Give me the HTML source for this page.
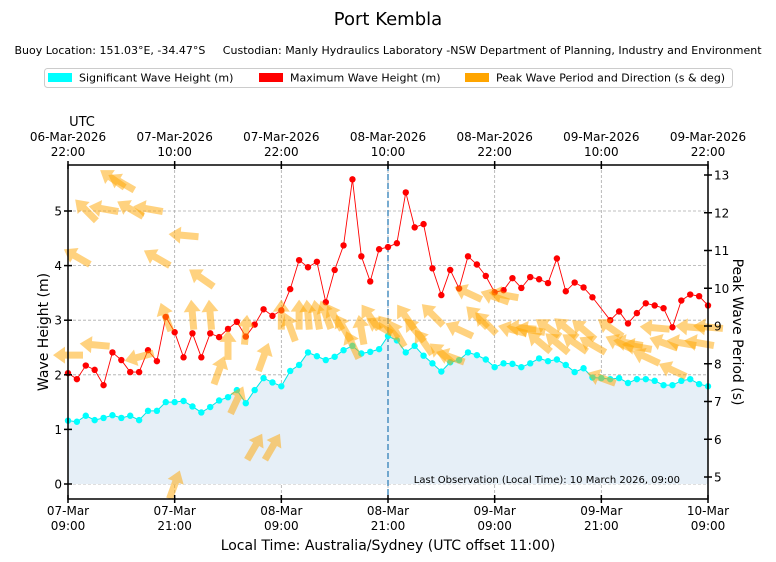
<!DOCTYPE html>
<html><head><meta charset="utf-8">
<style>
body{margin:0;background:#fff;}
svg{display:block;font-family:"DejaVu Sans","Liberation Sans",sans-serif;}
</style></head>
<body>
<svg id="chart" width="776" height="562" viewBox="0 0 776 562">
<text x="388" y="25" font-size="18" text-anchor="middle">Port Kembla</text>
<text x="388" y="54" font-size="11" text-anchor="middle" xml:space="preserve">Buoy Location: 151.03°E, -34.47°S     Custodian: Manly Hydraulics Laboratory -NSW Department of Planning, Industry and Environment</text>
<g>
<rect x="44.5" y="68.5" width="688" height="19" rx="3" fill="#fff" stroke="#ccc"/>
<g><rect x="48" y="73" width="24" height="9" fill="#00ffff"/><text x="79" y="81.5" font-size="11">Significant Wave Height (m)</text></g>
<g><rect x="259" y="73" width="24" height="9" fill="#ff0000"/><text x="290" y="81.5" font-size="11">Maximum Wave Height (m)</text></g>
<g><rect x="465" y="73" width="24" height="9" fill="#ffa500"/><text x="496" y="81.5" font-size="11">Peak Wave Period and Direction (s &amp; deg)</text></g>
</g>
<text x="82" y="126" font-size="13" text-anchor="middle">UTC</text>
<g id="plot"></g>
<text x="388" y="550" font-size="14" text-anchor="middle">Local Time: Australia/Sydney (UTC offset 11:00)</text>
<text transform="translate(48,332) rotate(-90)" font-size="14" text-anchor="middle">Wave Height (m)</text>
<text transform="translate(733,332) rotate(90)" font-size="14" text-anchor="middle">Peak Wave Period (s)</text>
</svg>
<script>
const hsValues=[1.16,1.14,1.25,1.17,1.21,1.26,1.21,1.25,1.17,1.34,1.34,1.50,1.50,1.52,1.42,1.31,1.41,1.53,1.59,1.72,1.48,1.72,1.94,1.86,1.79,2.07,2.18,2.41,2.34,2.27,2.33,2.45,2.53,2.39,2.42,2.47,2.71,2.63,2.41,2.53,2.35,2.21,2.06,2.23,2.27,2.41,2.36,2.28,2.14,2.21,2.20,2.14,2.21,2.30,2.25,2.28,2.18,2.05,2.12,1.95,1.94,1.92,1.94,1.85,1.92,1.92,1.89,1.81,1.81,1.89,1.92,1.83,1.79];
const hmaxValues=[2.03,1.92,2.17,2.09,1.81,2.41,2.27,2.05,2.05,2.45,2.25,3.06,2.78,2.32,2.76,2.32,2.76,2.69,2.84,2.97,2.70,2.92,3.20,3.08,3.18,3.57,4.10,3.97,4.07,3.33,3.92,4.37,5.58,4.17,3.71,4.30,4.34,4.41,5.34,4.70,4.76,3.95,3.46,3.92,3.58,4.17,4.02,3.81,3.51,3.55,3.77,3.59,3.79,3.75,3.68,4.13,3.53,3.69,3.60,3.42,null,3.00,3.16,2.94,3.13,3.31,3.27,3.22,2.87,3.36,3.47,3.44,3.27];
const periodValues=[8.23,10.83,12.07,8.5,12.1,12.9,12.8,12.1,8.18,12.1,10.8,9.24,4.8,11.4,9.3,10.27,9.3,7.83,8.5,7.04,8.9,5.8,8.18,5.8,9.3,8.97,9.3,9.3,9.3,9.3,9.24,8.95,8.5,8.9,9.24,9.0,8.97,8.8,9.24,8.9,8.58,9.3,8.28,8.18,8.9,9.87,9.24,9.08,9.77,9.82,8.9,8.95,8.9,8.58,8.95,8.55,8.95,8.55,8.9,8.5,7.62,8.95,8.55,8.55,8.45,8.18,8.95,8.55,7.83,8.55,8.97,8.55,8.97];
const directionValues=[90,120,135,95,100,125,120,120,75,100,120,160,200,95,175,125,175,200,180,205,185,210,200,210,180,160,180,175,170,160,150,150,155,170,145,120,140,150,145,140,145,135,130,110,115,115,135,135,110,100,105,95,100,130,125,130,130,125,130,120,110,125,115,100,100,115,95,110,115,100,95,100,95];
const leftTicks=[0,1,2,3,4,5];
const rightTicks=[5,6,7,8,9,10,11,12,13];
const bottomLabels=[["07-Mar","09:00"],["07-Mar","21:00"],["08-Mar","09:00"],["08-Mar","21:00"],["09-Mar","09:00"],["09-Mar","21:00"],["10-Mar","09:00"]];
const topLabels=[["06-Mar-2026","22:00"],["07-Mar-2026","10:00"],["07-Mar-2026","22:00"],["08-Mar-2026","10:00"],["08-Mar-2026","22:00"],["09-Mar-2026","10:00"],["09-Mar-2026","22:00"]];
const lastObsIndex=36;

const L=68,R=708,T=165,B=499;
const xS=i=>L+(R-L)*i/72;
const yL=v=>484-54.6*v;
const yR=p=>477-(p-5)*37.75;
const NS="http://www.w3.org/2000/svg";
const plot=document.getElementById('plot');
function mk(tag,attrs,parent){const e=document.createElementNS(NS,tag);for(const k in attrs)e.setAttribute(k,attrs[k]);(parent||plot).appendChild(e);return e;}

// grid
leftTicks.forEach(v=>{const g=mk('line',{x1:L,x2:R,y1:yL(v),y2:yL(v),stroke:'#aaa','stroke-dasharray':'3,2','stroke-width':0.8});

});
bottomLabels.forEach((b,k)=>{const x=xS(k*12);const g=mk('line',{x1:x,x2:x,y1:T,y2:B,stroke:'#aaa','stroke-dasharray':'3,2','stroke-width':0.8});

});

// fill
let d='M'+xS(0)+','+yL(0);
hsValues.forEach((v,i)=>{d+=' L'+xS(i)+','+yL(v);});
d+=' L'+xS(hsValues.length-1)+','+yL(0)+' Z';
const fill=mk('path',{d:d,fill:'#e6eff7'});



// last obs line
const lo=mk('line',{x1:xS(lastObsIndex),x2:xS(lastObsIndex),y1:T,y2:B,stroke:'#4a8fc0','stroke-width':1.5,'stroke-dasharray':'6,3'});



// hs line + points
let hd='';hsValues.forEach((v,i)=>{hd+=(i?' L':'M')+xS(i)+','+yL(v);});
const hl=mk('path',{d:hd,fill:'none',stroke:'#00e5e5','stroke-width':1});


hsValues.forEach((v,i)=>{const c=mk('circle',{cx:xS(i),cy:yL(v),r:3.2,fill:'#00ffff'});

});

// hmax line + points
let md='';let pen=false;hmaxValues.forEach((v,i)=>{if(v==null)return;md+=(pen?' L':'M')+xS(i)+','+yL(v);pen=true;});
const ml=mk('path',{d:md,fill:'none',stroke:'#ff0000','stroke-width':0.9});


hmaxValues.forEach((v,i)=>{if(v==null)return;const c=mk('circle',{cx:xS(i),cy:yL(v),r:3.2,fill:'#ff0000'});

});

// arrows
const ag=mk('g',{});


periodValues.forEach((p,i)=>{
  const dir=directionValues[i];
  const rot=(dir+180)-90; // screen angle: 0 = pointing right
  const a=mk('path',{d:'M-15,-3.5 L3,-3.5 L3,-8.5 L15,0 L3,8.5 L3,3.5 L-15,3.5 Z',fill:'#ffa500','fill-opacity':0.5,
    transform:'translate('+xS(i)+','+yR(p)+') rotate('+rot+')'},ag);
  
  
});

// last obs text
const lt=mk('text',{x:680,y:483,'font-size':10,'text-anchor':'end'});
lt.textContent='Last Observation (Local Time): 10 March 2026, 09:00';



// frame
const fr=mk('rect',{x:L,y:T,width:R-L,height:B-T,fill:'none',stroke:'#000','stroke-width':1.5});



// left ticks
leftTicks.forEach(v=>{mk('line',{x1:L-4,x2:L+4,y1:yL(v),y2:yL(v),stroke:'#000','stroke-width':1.5});
const t=mk('text',{x:L-6,y:yL(v)+4.5,'font-size':12,'text-anchor':'end'});t.textContent=v;

});
// right ticks
rightTicks.forEach(v=>{mk('line',{x1:R-4,x2:R+4,y1:yR(v),y2:yR(v),stroke:'#000','stroke-width':1.5});
const t=mk('text',{x:R+6,y:yR(v)+4.5,'font-size':12});t.textContent=v;

});
// bottom/top ticks
bottomLabels.forEach((b,k)=>{const x=xS(k*12);
mk('line',{x1:x,x2:x,y1:B-4,y2:B+4,stroke:'#000','stroke-width':1.5});
mk('line',{x1:x,x2:x,y1:T-4,y2:T+4,stroke:'#000','stroke-width':1.5});
const t1=mk('text',{x:x,y:515,'font-size':12,'text-anchor':'middle'});t1.textContent=b[0];


const t2=mk('text',{x:x,y:530,'font-size':12,'text-anchor':'middle'});t2.textContent=b[1];


const u1=mk('text',{x:x,y:141,'font-size':12,'text-anchor':'middle'});u1.textContent=topLabels[k][0];


const u2=mk('text',{x:x,y:156,'font-size':12,'text-anchor':'middle'});u2.textContent=topLabels[k][1];


});
</script>
</body></html>
